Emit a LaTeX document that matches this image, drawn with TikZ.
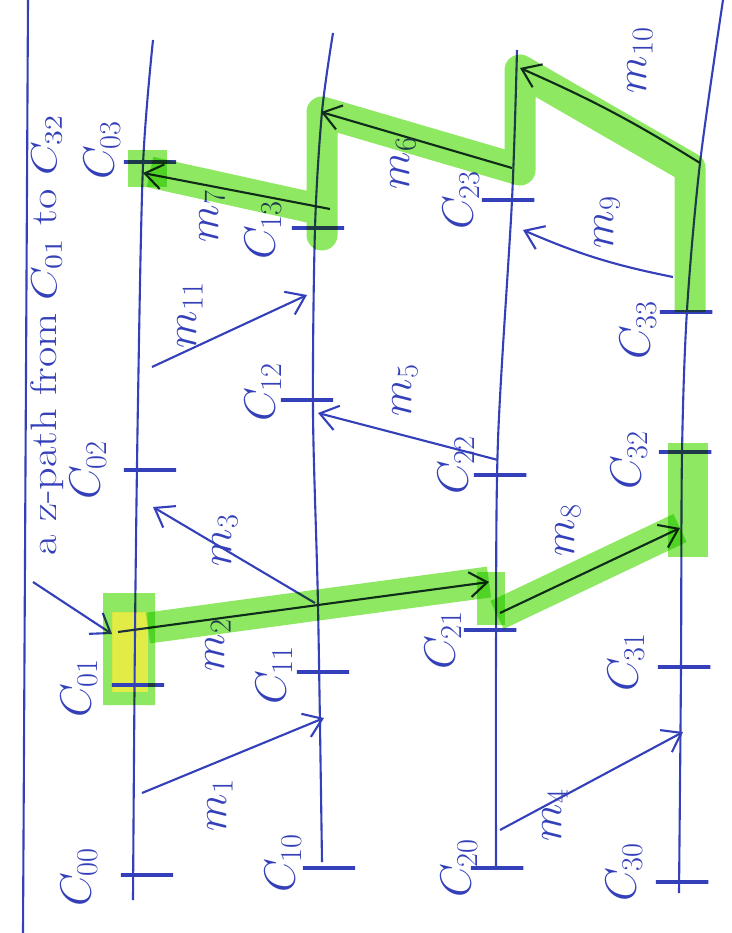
\documentclass[tikz,border=0pt]{standalone}
\usepackage{amsmath}
\usepackage{tikz}
\usetikzlibrary{arrows.meta, calc}
\definecolor{ink}{RGB}{52,64,185}
\definecolor{darkink}{RGB}{28,48,66}
\definecolor{hlgreen}{RGB}{142,232,98}
\definecolor{hlyellow}{RGB}{226,236,70}
\tikzstyle{procline} = [draw=ink, line width=1.2pt]
\tikzstyle{tick} = [draw=ink, line width=1.9pt, minimum width=1.05cm, minimum height=0pt, inner sep=0pt]
\tikzstyle{msg} = [draw=ink, line width=1.2pt, -{Straight Barb[length=0.35cm, width=0.5cm]}]
\tikzstyle{zmsg} = [msg, draw=darkink]
\tikzstyle{hl} = [draw=hlgreen, line width=0.62cm, line join=round, blend mode=multiply]
\tikzstyle{hlblock} = [fill=hlgreen, blend mode=multiply]
\tikzstyle{evlabel} = [text=ink, rotate=90, inner sep=0pt, font=\fontsize{23}{27}\selectfont]
\tikzstyle{msglabel} = [text=ink, rotate=90, inner sep=0pt, font=\fontsize{24}{28}\selectfont]
\tikzstyle{notelabel} = [text=ink, rotate=90, xscale=1.2, inner sep=0pt, font=\fontsize{21}{25}\selectfont]

\begin{document}
\begin{tikzpicture}[x=0.02cm, y=-0.02cm]
\useasboundingbox (0,0) rectangle (731,933);

% Process lines
\coordinate (p0top) at (153,40);  \coordinate (p0bot) at (133,900);
\coordinate (p1top) at (333,33);  \coordinate (p1bot) at (322,862);
\coordinate (p2top) at (517,50);  \coordinate (p2bot) at (496,867);
\coordinate (p3top) at (723,0);   \coordinate (p3bot) at (679,893);
\coordinate (frametop) at (28,0); \coordinate (framebot) at (23,933);

% yellow under the first event
\fill[hlyellow] (112,612) rectangle (148,692);

\draw[procline] (frametop) -- (framebot);
\draw[procline] plot[smooth] coordinates {(p0top) (143,165) (138,400) (135,632) (p0bot)};
\draw[procline] plot[smooth] coordinates {(p1top) (322,112) (315,228) (313,413) (318,605) (p1bot)};
\draw[procline] plot[smooth] coordinates {(p2top) (512,200) (498,440) (496,650) (p2bot)};
\draw[procline] plot[smooth] coordinates {(p3top) (700,163) (687,310) (682,453) (681,667) (p3bot)};

% Events
\node (c00) [tick] at (147,875) {};
\node (c01) [tick] at (138,685) {};
\node (c02) [tick] at (150,470) {};
\node (c03) [tick] at (150,162) {};
\node (c10) [tick] at (329,868) {};
\node (c11) [tick] at (323,672) {};
\node (c12) [tick] at (307,400) {};
\node (c13) [tick] at (318,228) {};
\node (c20) [tick] at (497,868) {};
\node (c21) [tick] at (490,630) {};
\node (c22) [tick] at (500,475) {};
\node (c23) [tick] at (508,200) {};
\node (c30) [tick] at (682,882) {};
\node (c31) [tick] at (684,667) {};
\node (c32) [tick] at (685,452) {};
\node (c33) [tick] at (686,312) {};

\node (l00) [evlabel] at (79,877) {$C_{00}$};
\node (l01) [evlabel] at (79,688) {$C_{01}$};
\node (l02) [evlabel] at (88,470) {$C_{02}$};
\node (l03) [evlabel] at (102,150) {$C_{03}$};
\node (l10) [evlabel] at (283,863) {$C_{10}$};
\node (l11) [evlabel] at (274,675) {$C_{11}$};
\node (l12) [evlabel] at (263,392) {$C_{12}$};
\node (l13) [evlabel] at (263,230) {$C_{13}$};
\node (l20) [evlabel] at (459,868) {$C_{20}$};
\node (l21) [evlabel] at (443,640) {$C_{21}$};
\node (l22) [evlabel] at (456,465) {$C_{22}$};
\node (l23) [evlabel] at (461,200) {$C_{23}$};
\node (l30) [evlabel] at (624,872) {$C_{30}$};
\node (l31) [evlabel] at (626,662) {$C_{31}$};
\node (l32) [evlabel] at (629,460) {$C_{32}$};
\node (l33) [evlabel] at (638,330) {$C_{33}$};

% Message ends
\coordinate (m1s) at (142,793);  \coordinate (m1e) at (324,718);
\coordinate (m2s) at (118,632);  \coordinate (m2m) at (318,605);  \coordinate (m2e) at (489,582);
\coordinate (m3s) at (315,603);  \coordinate (m3e) at (153,507);
\coordinate (m4s) at (500,830);  \coordinate (m4e) at (683,732);
\coordinate (m5s) at (498,460);  \coordinate (m5e) at (318,413);
\coordinate (m6s) at (512,168);  \coordinate (m6e) at (321,112);
\coordinate (m7s) at (330,209);  \coordinate (m7e) at (143,173);
\coordinate (m8s) at (500,613);  \coordinate (m8e) at (680,528);
\coordinate (m9s) at (673,277);  \coordinate (m9e) at (523,230);
\coordinate (m10s) at (700,163); \coordinate (m10e) at (520,68);
\coordinate (m11s) at (152,367); \coordinate (m11e) at (307,295);

% Messages
\draw [msg] (m1s) -- (m1e);
\draw [zmsg] (m2s) -- (m2m) -- (m2e);
\draw [msg] (m3s) -- (m3e);
\draw [msg] (m4s) -- (m4e);
\draw [msg] (m5s) -- (m5e);
\draw [zmsg] (m6s) -- (m6e);
\draw [zmsg] (m7s) -- (m7e);
\draw [zmsg] (m8s) -- (m8e);
\draw [msg] (m9s) to[bend left=6] (m9e);
\draw [zmsg] (m10s) to[bend right=4] (m10e);
\draw [msg] (m11s) -- (m11e);

\node (n1) [msglabel] at (220,805) {$m_1$};
\node (n2) [msglabel] at (218,645) {$m_2$};
\node (n3) [msglabel] at (225,540) {$m_3$};
\node (n4) [msglabel] at (555,815) {$m_4$};
\node (n5) [msglabel] at (405,390) {$m_5$};
\node (n6) [msglabel] at (403,163) {$m_6$};
\node (n7) [msglabel] at (212,216) {$m_7$};
\node (n8) [msglabel] at (568,530) {$m_8$};
\node (n9) [msglabel] at (607,222) {$m_9$};
\node (n10) [msglabel] at (640,60) {$m_{10}$};
\node (n11) [msglabel] at (190,315) {$m_{11}$};

% Note
\node (note) [notelabel] at (47,335) {a z-path from $C_{01}$ to $C_{32}$};
\coordinate (notetail) at (33,582);
\coordinate (c01ptr) at (112,634);
\draw [msg] (notetail) -- (c01ptr);

% z-path marker
\fill [hlblock, even odd rule] (103,593) rectangle (155,705) (112,612) rectangle (148,692);
\draw [hl] (148,628) -- (m2m) -- (m2e);
\fill [hlblock] (477,572) rectangle (505,625);
\draw [hl] (497,615) -- (m8e);
\fill [hlblock] (668,443) rectangle (708,557);
\draw [hl] (690,312) -- (690,168) -- (520,70) -- (520,170) -- (322,112) -- (322,235) -- (322,210) -- (150,172);
\fill [hlblock] (128,150) rectangle (167,187);

\end{tikzpicture}
\end{document}
